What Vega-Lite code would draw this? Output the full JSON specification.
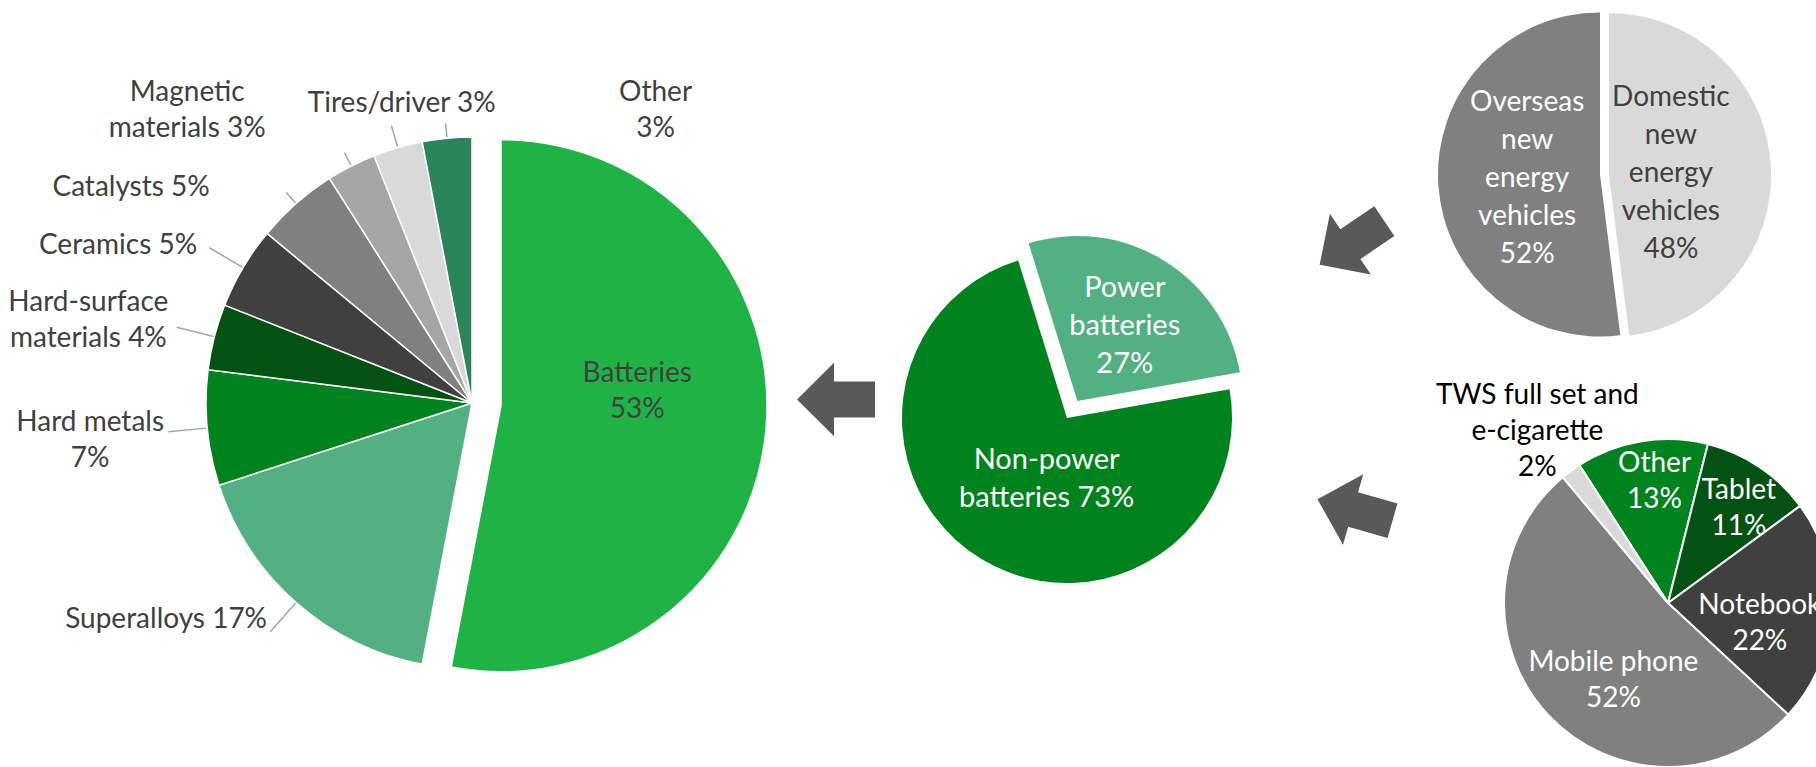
{
  "$schema": "https://vega.github.io/schema/vega-lite/v6.json",
  "padding": 0,
  "background": "white",
  "bounds": "full",
  "spacing": 0,
  "resolve": {"scale": {"color": "independent", "theta": "independent"}},
  "config": {"view": {"stroke": null}, "font": "Lato", "concat": {"spacing": 0}},
  "datasets": {
    "materials": [
      {"cat": "Batteries", "value": 53, "order": 1, "label": "Batteries\n53%"},
      {"cat": "Superalloys", "value": 17, "order": 2, "label": "Superalloys 17%"},
      {"cat": "Hard metals", "value": 7, "order": 3, "label": "Hard metals\n7%"},
      {"cat": "Hard-surface materials", "value": 4, "order": 4, "label": "Hard-surface\nmaterials 4%"},
      {"cat": "Ceramics", "value": 5, "order": 5, "label": "Ceramics 5%"},
      {"cat": "Catalysts", "value": 5, "order": 6, "label": "Catalysts 5%"},
      {"cat": "Magnetic materials", "value": 3, "order": 7, "label": "Magnetic\nmaterials 3%"},
      {"cat": "Tires/driver", "value": 3, "order": 8, "label": "Tires/driver 3%"},
      {"cat": "Other", "value": 3, "order": 9, "label": "Other\n3%"}
    ],
    "batteries": [
      {"cat": "Power batteries", "value": 27, "order": 1, "label": "Power\nbatteries\n27%"},
      {"cat": "Non-power batteries", "value": 73, "order": 2, "label": "Non-power\nbatteries 73%"}
    ],
    "nev": [
      {"cat": "Domestic new energy vehicles", "value": 48, "order": 1, "label": "Domestic\nnew\nenergy\nvehicles\n48%"},
      {"cat": "Overseas new energy vehicles", "value": 52, "order": 2, "label": "Overseas\nnew\nenergy\nvehicles\n52%"}
    ],
    "consumer": [
      {"cat": "Other", "value": 13, "order": 1, "label": "Other\n13%"},
      {"cat": "Tablet", "value": 11, "order": 2, "label": "Tablet\n11%"},
      {"cat": "Notebook", "value": 22, "order": 3, "label": "Notebook\n22%"},
      {"cat": "Mobile phone", "value": 52, "order": 4, "label": "Mobile phone\n52%"},
      {"cat": "TWS full set and e-cigarette", "value": 2, "order": 5, "label": "TWS full set and\ne-cigarette\n2%"}
    ],
    "arrow": [{"id": "arrow"}],
    "blank": [{"id": "blank"}]
  },
  "hconcat": [
    {"data": {"name": "blank"}, "mark": {"type": "text", "text": ""}, "width": 8, "height": 10},
    {
      "vconcat": [
        {"data": {"name": "blank"}, "mark": {"type": "text", "text": ""}, "width": 650, "height": 37},
        {
          "width": 650, "height": 730,
          "data": {"name": "materials"},
          "encoding": {
            "theta": {"field": "value", "type": "quantitative", "stack": true},
            "order": {"field": "order", "type": "quantitative"}
          },
          "layer": [
            {
              "mark": {"type": "arc", "radius": 266, "stroke": "white", "strokeWidth": 1.5},
              "encoding": {
                "color": {"field": "cat", "type": "nominal", "legend": null,
                  "scale": {"domain": ["Batteries", "Superalloys", "Hard metals", "Hard-surface materials", "Ceramics", "Catalysts", "Magnetic materials", "Tires/driver", "Other"],
                            "range": ["#1FB346", "#52B082", "#00821E", "#035213", "#404040", "#808080", "#A6A6A6", "#D9D9D9", "#2A8558"]}},
                "opacity": {"condition": {"test": "datum.cat === 'Batteries'", "value": 0}, "value": 1}
              }
            },
            {
              "mark": {"type": "arc", "radius": 266, "stroke": "white", "strokeWidth": 1.5, "xOffset": 29, "yOffset": 2.7},
              "encoding": {
                "color": {"field": "cat", "type": "nominal", "legend": null},
                "opacity": {"condition": {"test": "datum.cat === 'Batteries'", "value": 1}, "value": 0}
              }
            },
            {
              "mark": {"type": "arc", "radius": 305, "radius2": 267, "padAngle": 1.5, "stroke": "#A6A6A6", "strokeWidth": 1.5, "fillOpacity": 0},
              "encoding": {
                "detail": {"field": "cat"},
                "opacity": {"condition": {"test": "indexof(['Superalloys','Hard metals','Hard-surface materials','Ceramics'], datum.cat) >= 0", "value": 1}, "value": 0}
              }
            },
            {
              "mark": {"type": "arc", "radius": 289, "radius2": 267, "padAngle": 1.5, "stroke": "#A6A6A6", "strokeWidth": 1.5, "fillOpacity": 0},
              "encoding": {
                "detail": {"field": "cat"},
                "opacity": {"condition": {"test": "datum.cat === 'Tires/driver'", "value": 1}, "value": 0}
              }
            },
            {
              "mark": {"type": "arc", "radius": 281, "radius2": 267, "padAngle": 1.5, "stroke": "#A6A6A6", "strokeWidth": 1.5, "fillOpacity": 0},
              "encoding": {
                "detail": {"field": "cat"},
                "opacity": {"condition": {"test": "indexof(['Catalysts','Magnetic materials','Other'], datum.cat) >= 0", "value": 1}, "value": 0}
              }
            },
            {
              "mark": {"type": "text", "radius": 166, "dy": -45, "fontSize": 28, "lineHeight": 36, "lineBreak": "\n", "align": "center", "baseline": "middle", "color": "#404040"},
              "encoding": {"detail": {"field": "cat"}, "text": {"condition": {"test": "datum.cat === 'Batteries'", "field": "label"}, "value": ""}}
            },
            {
              "mark": {"type": "text", "radius": 100, "dx": 193, "dy": -210, "fontSize": 28, "lineHeight": 36, "lineBreak": "\n", "align": "center", "baseline": "middle", "color": "#404040"},
              "encoding": {"detail": {"field": "cat"}, "text": {"condition": {"test": "datum.cat === 'Other'", "field": "label"}, "value": ""}}
            },
            {
              "mark": {"type": "text", "radius": 266, "dx": 4, "dy": -44, "fontSize": 28, "lineHeight": 36, "lineBreak": "\n", "align": "center", "baseline": "middle", "color": "#404040"},
              "encoding": {"detail": {"field": "cat"}, "text": {"condition": {"test": "datum.cat === 'Tires/driver'", "field": "label"}, "value": ""}}
            },
            {
              "mark": {"type": "text", "radius": 266, "dx": -164, "dy": -73, "fontSize": 28, "lineHeight": 36, "lineBreak": "\n", "align": "center", "baseline": "middle", "color": "#404040"},
              "encoding": {"detail": {"field": "cat"}, "text": {"condition": {"test": "datum.cat === 'Magnetic materials'", "field": "label"}, "value": ""}}
            },
            {
              "mark": {"type": "text", "radius": 266, "dx": -165, "dy": -15, "fontSize": 28, "lineHeight": 36, "lineBreak": "\n", "align": "center", "baseline": "middle", "color": "#404040"},
              "encoding": {"detail": {"field": "cat"}, "text": {"condition": {"test": "datum.cat === 'Catalysts'", "field": "label"}, "value": ""}}
            },
            {
              "mark": {"type": "text", "radius": 266, "dx": -125, "dy": -22, "fontSize": 28, "lineHeight": 36, "lineBreak": "\n", "align": "center", "baseline": "middle", "color": "#404040"},
              "encoding": {"detail": {"field": "cat"}, "text": {"condition": {"test": "datum.cat === 'Ceramics'", "field": "label"}, "value": ""}}
            },
            {
              "mark": {"type": "text", "radius": 266, "dx": -126, "dy": -34, "fontSize": 28, "lineHeight": 36, "lineBreak": "\n", "align": "center", "baseline": "middle", "color": "#404040"},
              "encoding": {"detail": {"field": "cat"}, "text": {"condition": {"test": "datum.cat === 'Hard-surface materials'", "field": "label"}, "value": ""}}
            },
            {
              "mark": {"type": "text", "radius": 266, "dx": -117, "dy": -5, "fontSize": 28, "lineHeight": 36, "lineBreak": "\n", "align": "center", "baseline": "middle", "color": "#404040"},
              "encoding": {"detail": {"field": "cat"}, "text": {"condition": {"test": "datum.cat === 'Hard metals'", "field": "label"}, "value": ""}}
            },
            {
              "mark": {"type": "text", "radius": 266, "dx": -130, "dy": 17, "fontSize": 28, "lineHeight": 36, "lineBreak": "\n", "align": "center", "baseline": "middle", "color": "#404040"},
              "encoding": {"detail": {"field": "cat"}, "text": {"condition": {"test": "datum.cat === 'Superalloys'", "field": "label"}, "value": ""}}
            }
          ]
        }
      ],
      "spacing": 0, "bounds": "flush"
    },
    {
      "vconcat": [
        {"data": {"name": "blank"}, "mark": {"type": "text", "text": ""}, "width": 78, "height": 359},
        {"data": {"name": "arrow"}, "width": 78, "height": 79,
         "mark": {"type": "point", "shape": "M-1,0L-0.05,-0.94L-0.05,-0.46L1,-0.46L1,0.46L-0.05,0.46L-0.05,0.94Z", "size": 6084, "filled": true, "color": "#595959", "opacity": 1, "strokeWidth": 0, "angle": 0}}
      ],
      "spacing": 0, "bounds": "flush"
    },
    {
      "vconcat": [
        {"data": {"name": "blank"}, "mark": {"type": "text", "text": ""}, "width": 384, "height": 252},
        {
          "width": 384, "height": 330,
          "data": {"name": "batteries"},
          "encoding": {
            "theta": {"field": "value", "type": "quantitative", "stack": true, "scale": {"range": [-0.300, 5.983]}},
            "order": {"field": "order", "type": "quantitative"}
          },
          "layer": [
            {
              "mark": {"type": "arc", "radius": 165},
              "encoding": {
                "color": {"field": "cat", "type": "nominal", "legend": null,
                  "scale": {"domain": ["Power batteries", "Non-power batteries"], "range": ["#52B082", "#00821E"]}},
                "opacity": {"condition": {"test": "datum.cat === 'Power batteries'", "value": 0}, "value": 1}
              }
            },
            {
              "mark": {"type": "arc", "radius": 165, "xOffset": 10.4, "yOffset": -17},
              "encoding": {
                "color": {"field": "cat", "type": "nominal", "legend": null},
                "opacity": {"condition": {"test": "datum.cat === 'Power batteries'", "value": 1}, "value": 0}
              }
            },
            {
              "mark": {"type": "text", "radius": 89, "xOffset": 10.4, "yOffset": -17, "dx": 1, "dy": -37, "fontSize": 29, "lineHeight": 38, "lineBreak": "\n", "align": "center", "baseline": "middle", "color": "white"},
              "encoding": {"detail": {"field": "cat"}, "text": {"condition": {"test": "datum.cat === 'Power batteries'", "field": "label"}, "value": ""}}
            },
            {
              "mark": {"type": "text", "radius": 64, "dx": 13, "dy": -13, "fontSize": 29, "lineHeight": 38, "lineBreak": "\n", "align": "center", "baseline": "middle", "color": "white"},
              "encoding": {"detail": {"field": "cat"}, "text": {"condition": {"test": "datum.cat === 'Non-power batteries'", "field": "label"}, "value": ""}}
            }
          ]
        }
      ],
      "spacing": 0, "bounds": "flush"
    },
    {
      "vconcat": [
        {"data": {"name": "blank"}, "mark": {"type": "text", "text": ""}, "width": 176, "height": 192},
        {"data": {"name": "arrow"}, "width": 176, "height": 100,
         "mark": {"type": "point", "shape": "M-1,0L-0.05,-0.94L-0.05,-0.46L1,-0.46L1,0.46L-0.05,0.46L-0.05,0.94Z", "size": 6084, "filled": true, "color": "#595959", "opacity": 1, "strokeWidth": 0, "angle": -34, "xOffset": 5}},
        {"data": {"name": "blank"}, "mark": {"type": "text", "text": ""}, "width": 176, "height": 167},
        {"data": {"name": "arrow"}, "width": 176, "height": 100,
         "mark": {"type": "point", "shape": "M-1,0L-0.05,-0.94L-0.05,-0.46L1,-0.46L1,0.46L-0.05,0.46L-0.05,0.94Z", "size": 6084, "filled": true, "color": "#595959", "opacity": 1, "strokeWidth": 0, "angle": 16, "xOffset": 8}}
      ],
      "spacing": 0, "bounds": "flush"
    },
    {
      "vconcat": [
        {
          "width": 280, "height": 347,
          "data": {"name": "nev"},
          "encoding": {
            "theta": {"field": "value", "type": "quantitative", "stack": true},
            "order": {"field": "order", "type": "quantitative"}
          },
          "layer": [
            {
              "mark": {"type": "arc", "radius": 162},
              "encoding": {
                "color": {"field": "cat", "type": "nominal", "legend": null,
                  "scale": {"domain": ["Domestic new energy vehicles", "Overseas new energy vehicles"], "range": ["#D9D9D9", "#808080"]}},
                "opacity": {"condition": {"test": "datum.order === 1", "value": 0}, "value": 1}
              }
            },
            {
              "mark": {"type": "arc", "radius": 162, "xOffset": 9, "yOffset": 0.6},
              "encoding": {
                "color": {"field": "cat", "type": "nominal", "legend": null},
                "opacity": {"condition": {"test": "datum.order === 1", "value": 1}, "value": 0}
              }
            },
            {
              "mark": {"type": "text", "radius": 64, "xOffset": 9, "dx": -2, "dy": -72, "fontSize": 28, "lineHeight": 38, "lineBreak": "\n", "align": "center", "baseline": "middle", "color": "#404040"},
              "encoding": {"detail": {"field": "cat"}, "text": {"condition": {"test": "datum.order === 1", "field": "label"}, "value": ""}}
            },
            {
              "mark": {"type": "text", "radius": 73, "dy": -76, "fontSize": 28, "lineHeight": 38, "lineBreak": "\n", "align": "center", "baseline": "middle", "color": "white"},
              "encoding": {"detail": {"field": "cat"}, "text": {"condition": {"test": "datum.order === 2", "field": "label"}, "value": ""}}
            }
          ]
        },
        {"data": {"name": "blank"}, "mark": {"type": "text", "text": ""}, "width": 282, "height": 90},
        {
          "hconcat": [
            {"data": {"name": "blank"}, "mark": {"type": "text", "text": ""}, "width": 137, "height": 330},
            {
              "width": 142, "height": 330,
              "data": {"name": "consumer"},
              "encoding": {
                "theta": {"field": "value", "type": "quantitative", "stack": true, "scale": {"range": [-0.571, 5.712]}},
                "order": {"field": "order", "type": "quantitative"}
              },
              "layer": [
                {
                  "mark": {"type": "arc", "radius": 164, "stroke": "white", "strokeWidth": 2},
                  "encoding": {
                    "color": {"field": "cat", "type": "nominal", "legend": null,
                      "scale": {"domain": ["Other", "Tablet", "Notebook", "Mobile phone", "TWS full set and e-cigarette"],
                                "range": ["#00821E", "#035213", "#404040", "#808080", "#D9D9D9"]}}
                  }
                },
                {
                  "mark": {"type": "text", "radius": 120, "dx": 6, "dy": -21, "fontSize": 28, "lineHeight": 36, "lineBreak": "\n", "align": "center", "baseline": "middle", "color": "white"},
                  "encoding": {"detail": {"field": "cat"}, "text": {"condition": {"test": "datum.order === 1", "field": "label"}, "value": ""}}
                },
                {
                  "mark": {"type": "text", "radius": 120, "dx": 4, "dy": -12, "fontSize": 28, "lineHeight": 36, "lineBreak": "\n", "align": "center", "baseline": "middle", "color": "white"},
                  "encoding": {"detail": {"field": "cat"}, "text": {"condition": {"test": "datum.order === 2", "field": "label"}, "value": ""}}
                },
                {
                  "mark": {"type": "text", "radius": 96, "dx": -4, "dy": -2, "fontSize": 28, "lineHeight": 36, "lineBreak": "\n", "align": "center", "baseline": "middle", "color": "white"},
                  "encoding": {"detail": {"field": "cat"}, "text": {"condition": {"test": "datum.order === 3", "field": "label"}, "value": ""}}
                },
                {
                  "mark": {"type": "text", "radius": 96, "dx": 15, "dy": -6, "fontSize": 28, "lineHeight": 36, "lineBreak": "\n", "align": "center", "baseline": "middle", "color": "white"},
                  "encoding": {"detail": {"field": "cat"}, "text": {"condition": {"test": "datum.order === 4", "field": "label"}, "value": ""}}
                },
                {
                  "transform": [
                    {"stack": "value", "groupby": [], "sort": [{"field": "order", "order": "ascending"}], "as": ["v0", "v1"]},
                    {"filter": "datum.order === 5"}
                  ],
                  "mark": {"type": "text", "radius": 216, "dx": 8, "dy": -41, "fontSize": 28, "lineHeight": 36, "lineBreak": "\n", "align": "center", "baseline": "middle", "color": "black"},
                  "encoding": {"theta": {"field": "v0", "type": "quantitative", "stack": null}, "text": {"field": "label"}}
                }
              ]
            }
          ],
          "spacing": 0, "bounds": "flush",
          "resolve": {"scale": {"color": "independent", "theta": "independent"}}
        }
      ],
      "spacing": 0, "bounds": "flush",
      "resolve": {"scale": {"color": "independent", "theta": "independent"}}
    }
  ]
}
